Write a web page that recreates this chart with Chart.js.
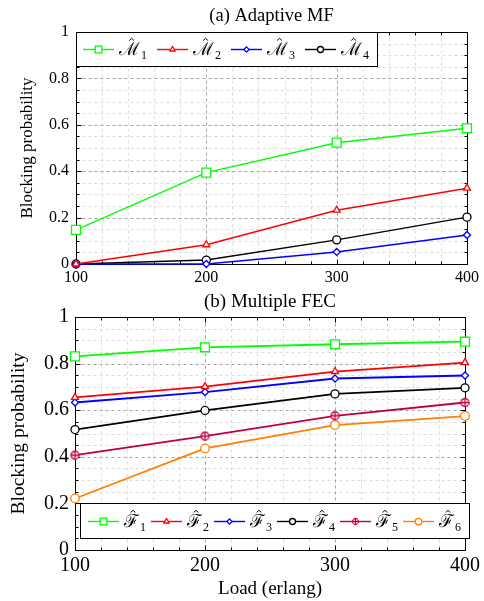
<!DOCTYPE html>
<html>
<head>
<meta charset="utf-8">
<script src="https://cdn.jsdelivr.net/npm/chart.js@4.4.0/dist/chart.umd.min.js"></script>
<style>
  html, body { margin: 0; padding: 0; background: #fff; }
  #wrap { position: relative; width: 484px; height: 601px; }
  .panel { position: absolute; left: 0; width: 484px; }
</style>
</head>
<body>
<div id="wrap">
  <div class="panel" style="top:0;height:288px"><canvas id="mfChart" width="484" height="288"></canvas></div>
  <div class="panel" style="top:288px;height:313px"><canvas id="fecChart" width="484" height="313"></canvas></div>
</div>
<script>
// Data
const loads = [100, 200, 300, 400];
const xTickLabels = [100, 200, 300, 400];
const yTickLabels = [0, 0.2, 0.4, 0.6, 0.8, 1];

// (a) Adaptive MF
const mf1 = [0.147, 0.394, 0.523, 0.585];
const mf2 = [0.0, 0.083, 0.232, 0.327];
const mf3 = [0.0, 0.0, 0.052, 0.125];
const mf4 = [0.0, 0.017, 0.104, 0.202];

// (b) Multiple FEC
const fec1 = [0.831, 0.870, 0.883, 0.894];
const fec2 = [0.655, 0.701, 0.766, 0.804];
const fec3 = [0.633, 0.678, 0.736, 0.749];
const fec4 = [0.517, 0.599, 0.670, 0.696];
const fec5 = [0.407, 0.489, 0.576, 0.633];
const fec6 = [0.221, 0.436, 0.536, 0.575];

const FONT = '"Liberation Serif", "DejaVu Serif", serif';

// circle with a plus inside, used as point style for F5
function circledPlus(color, r) {
  const c = document.createElement('canvas');
  const s = Math.ceil(2 * r + 3);
  c.width = s; c.height = s;
  const g = c.getContext('2d');
  const m = s / 2;
  g.fillStyle = '#fff';
  g.strokeStyle = color;
  g.lineWidth = 1.3;
  g.beginPath(); g.arc(m, m, r, 0, Math.PI * 2); g.fill(); g.stroke();
  g.beginPath();
  g.moveTo(m - r, m); g.lineTo(m + r, m);
  g.moveTo(m, m - r); g.lineTo(m, m + r);
  g.stroke();
  return c;
}

function drawMarker(ctx, ds, x, y, scale) {
  ctx.save();
  ctx.fillStyle = '#fff';
  ctx.strokeStyle = ds.borderColor;
  ctx.lineWidth = ds.pointBorderWidth;
  if (ds.pointStyle instanceof HTMLCanvasElement) {
    const w = ds.pointStyle.width * scale, h = ds.pointStyle.height * scale;
    ctx.drawImage(ds.pointStyle, x - w / 2, y - h / 2, w, h);
  } else if (Chart.helpers && Chart.helpers.drawPoint) {
    Chart.helpers.drawPoint(ctx, { pointStyle: ds.pointStyle, radius: ds.pointRadius * scale, borderWidth: ds.pointBorderWidth, rotation: 0 }, x, y);
  } else {
    ctx.beginPath(); ctx.arc(x, y, ds.pointRadius * scale, 0, Math.PI * 2); ctx.fill(); ctx.stroke();
  }
  ctx.restore();
}

function series(label, sym, sub, vals, color, style, radius, lw) {
  return {
    label: label,
    sym: sym,
    sub: sub,
    data: loads.map((x, i) => ({ x: x, y: vals[i] })),
    borderColor: color,
    backgroundColor: '#fff',
    pointBackgroundColor: '#fff',
    pointBorderColor: color,
    pointStyle: style,
    pointRadius: radius,
    pointBorderWidth: 1.3,
    borderWidth: lw,
    tension: 0,
    clip: false
  };
}

// title centred over the plot area
const areaTitle = {
  id: 'areaTitle',
  afterDraw(chart, args, o) {
    const { ctx, chartArea: a } = chart;
    ctx.save();
    ctx.fillStyle = '#000';
    ctx.font = o.size + 'px ' + FONT;
    ctx.textAlign = 'center';
    ctx.textBaseline = 'middle';
    ctx.fillText(o.text, (a.left + a.right) / 2, o.y);
    ctx.restore();
  }
};

// dashed grid (major + minor), axis box and inner tick marks
const frame = {
  id: 'frame',
  beforeDatasetsDraw(chart) {
    const { ctx, chartArea: a, scales } = chart;
    const L = Math.round(a.left) + 0.5, R = Math.round(a.right) + 0.5;
    const T = Math.round(a.top) + 0.5, B = Math.round(a.bottom) + 0.5;
    const isMajorX = v => xTickLabels.includes(v);
    const isMajorY = v => yTickLabels.includes(Math.round(v * 100) / 100);
    ctx.save();
    ctx.lineWidth = 1;
    ctx.setLineDash([3, 3]);
    [false, true].forEach(major => {
      ctx.strokeStyle = major ? '#a3a3a3' : '#dcdcdc';
      ctx.beginPath();
      scales.x.ticks.forEach(t => {
        if (isMajorX(t.value) !== major) return;
        const px = Math.round(scales.x.getPixelForValue(t.value)) + 0.5;
        ctx.moveTo(px, T); ctx.lineTo(px, B);
      });
      scales.y.ticks.forEach(t => {
        if (isMajorY(t.value) !== major) return;
        const py = Math.round(scales.y.getPixelForValue(t.value)) + 0.5;
        ctx.moveTo(L, py); ctx.lineTo(R, py);
      });
      ctx.stroke();
    });
    ctx.setLineDash([]);
    ctx.strokeStyle = '#000';
    ctx.beginPath();
    scales.x.ticks.forEach(t => {
      const px = Math.round(scales.x.getPixelForValue(t.value)) + 0.5;
      const len = isMajorX(t.value) ? 5 : 3;
      ctx.moveTo(px, B); ctx.lineTo(px, B - len);
      ctx.moveTo(px, T); ctx.lineTo(px, T + len);
    });
    scales.y.ticks.forEach(t => {
      const py = Math.round(scales.y.getPixelForValue(t.value)) + 0.5;
      const len = isMajorY(t.value) ? 5 : 3;
      ctx.moveTo(L, py); ctx.lineTo(L + len, py);
      ctx.moveTo(R, py); ctx.lineTo(R - len, py);
    });
    ctx.stroke();
    ctx.strokeRect(L, T, R - L, B - T);
    ctx.restore();
  }
};

// boxed legend drawn inside the plot area
const boxLegend = {
  id: 'boxLegend',
  afterDraw(chart, args, o) {
    const { ctx, chartArea: a } = chart;
    const sets = chart.data.datasets;
    const symFont = o.size + 'px ' + FONT;
    const subFont = Math.round(o.size * 0.68) + 'px ' + FONT;
    ctx.save();
    const widths = sets.map(ds => {
      ctx.font = symFont;
      const w1 = ctx.measureText(ds.sym).width;
      ctx.font = subFont;
      const w2 = ctx.measureText(ds.sub).width;
      return { w1, w2 };
    });
    let total = o.padL + o.padR;
    widths.forEach((w, i) => {
      total += o.line + o.gap + w.w1 + 1 + w.w2 + (i < widths.length - 1 ? o.space : 0);
    });
    total = Math.round(total);
    const x0 = Math.round(o.align === 'left' ? a.left + o.dx : a.right + o.dx - total);
    const y0 = Math.round(o.valign === 'top' ? a.top + o.dy : a.bottom + o.dy - o.h);
    ctx.fillStyle = '#fff';
    ctx.fillRect(x0, y0, total, o.h);
    ctx.strokeStyle = '#000';
    ctx.lineWidth = 1;
    ctx.strokeRect(x0 + 0.5, y0 + 0.5, total, o.h);
    const cy = Math.round(y0 + o.h / 2) + 0.5;
    let x = x0 + o.padL;
    sets.forEach((ds, i) => {
      ctx.strokeStyle = ds.borderColor;
      ctx.lineWidth = 1.4;
      ctx.beginPath();
      ctx.moveTo(x, cy); ctx.lineTo(x + o.line, cy);
      ctx.stroke();
      drawMarker(ctx, ds, x + o.line / 2, cy, o.marker);
      x += o.line + o.gap;
      const w = widths[i];
      ctx.fillStyle = '#000';
      ctx.textAlign = 'left';
      ctx.textBaseline = 'alphabetic';
      ctx.font = symFont;
      const base = cy + o.size * 0.32;
      ctx.fillText(ds.sym, x, base);
      // hat accent over the letter
      const hx = x + w.w1 * 0.6, hy = cy - o.size * 0.62;
      ctx.strokeStyle = '#000';
      ctx.lineWidth = 1;
      ctx.beginPath();
      ctx.moveTo(hx - o.size * 0.13, hy + o.size * 0.12);
      ctx.lineTo(hx, hy);
      ctx.lineTo(hx + o.size * 0.13, hy + o.size * 0.12);
      ctx.stroke();
      x += w.w1 + 1;
      ctx.font = subFont;
      ctx.fillText(ds.sub, x, base + o.size * 0.2);
      x += w.w2 + o.space;
    });
    ctx.restore();
  }
};

function axes(o) {
  return {
    x: {
      type: 'linear',
      min: xTickLabels[0],
      max: xTickLabels[xTickLabels.length - 1],
      afterFit: s => { s.height = o.xH; },
      ticks: {
        stepSize: 20,
        autoSkip: false,
        maxRotation: 0,
        padding: o.xPad,
        color: '#000',
        font: { family: FONT, size: o.tick },
        callback: v => xTickLabels.includes(v) ? String(v) : ''
      },
      grid: { display: false, drawTicks: false },
      border: { display: false },
      title: o.xTitle ? {
        display: true,
        text: o.xTitle,
        color: '#000',
        font: { family: FONT, size: o.xTitleSize },
        padding: { top: 0, bottom: o.xTitlePad }
      } : { display: false }
    },
    y: {
      min: yTickLabels[0],
      max: yTickLabels[yTickLabels.length - 1],
      afterFit: s => { s.width = o.yW; },
      ticks: {
        stepSize: 0.05,
        autoSkip: false,
        padding: o.yPad,
        color: '#000',
        font: { family: FONT, size: o.tick },
        callback: v => {
          const k = Math.round(v * 100) / 100;
          return yTickLabels.includes(k) ? String(k) : '';
        }
      },
      grid: { display: false, drawTicks: false },
      border: { display: false },
      title: {
        display: true,
        text: 'Blocking probability',
        color: '#000',
        font: { family: FONT, size: o.yTitleSize },
        padding: { top: o.yTitlePad, bottom: 0 }
      }
    }
  };
}

new Chart(document.getElementById('mfChart'), {
  type: 'line',
  data: {
    datasets: [
      series('ℳ̂1', 'ℳ', '1', mf1, '#00ff00', 'rect', 6.3, 1.5),
      series('ℳ̂2', 'ℳ', '2', mf2, '#ff0000', 'triangle', 4, 1.5),
      series('ℳ̂3', 'ℳ', '3', mf3, '#0000ff', 'rectRot', 3.5, 1.5),
      series('ℳ̂4', 'ℳ', '4', mf4, '#000000', 'circle', 4, 1.5)
    ]
  },
  options: {
    responsive: false,
    animation: false,
    events: [],
    layout: { padding: { left: 0, right: 17, top: 32, bottom: 0 } },
    scales: axes({ xH: 24, xPad: 4, tick: 16, yW: 76, yPad: 7, yTitleSize: 17, yTitlePad: 17 }),
    plugins: {
      legend: { display: false },
      tooltip: { enabled: false },
      areaTitle: { text: '(a) Adaptive MF', size: 18.5, y: 16 },
      boxLegend: { size: 18, marker: 0.75, line: 31, gap: 5, space: 10, padL: 7, padR: 8, h: 34, align: 'left', dx: 0, valign: 'top', dy: 0 }
    }
  },
  plugins: [frame, boxLegend, areaTitle]
});

new Chart(document.getElementById('fecChart'), {
  type: 'line',
  data: {
    datasets: [
      series('ℱ̂1', 'ℱ', '1', fec1, '#00ff00', 'rect', 6.3, 1.8),
      series('ℱ̂2', 'ℱ', '2', fec2, '#ff0000', 'triangle', 4, 1.8),
      series('ℱ̂3', 'ℱ', '3', fec3, '#0000ff', 'rectRot', 3.5, 1.8),
      series('ℱ̂4', 'ℱ', '4', fec4, '#000000', 'circle', 4, 1.8),
      series('ℱ̂5', 'ℱ', '5', fec5, '#bf0040', circledPlus('#bf0040', 4), 4, 1.8),
      series('ℱ̂6', 'ℱ', '6', fec6, '#ff8000', 'circle', 4.3, 1.8)
    ]
  },
  options: {
    responsive: false,
    animation: false,
    events: [],
    layout: { padding: { left: 0, right: 17, top: 29, bottom: 0 } },
    scales: axes({ xH: 51, xPad: 4, tick: 20, xTitle: 'Load (erlang)', xTitleSize: 19, xTitlePad: 1, yW: 75, yPad: 6, yTitleSize: 19.5, yTitlePad: 7 }),
    plugins: {
      legend: { display: false },
      tooltip: { enabled: false },
      areaTitle: { text: '(b) Multiple FEC', size: 19, y: 14 },
      boxLegend: { size: 18, marker: 0.75, line: 31, gap: 5, space: 5, padL: 8, padR: 8, h: 35, align: 'right', dx: 4, valign: 'bottom', dy: -12 }
    }
  },
  plugins: [frame, boxLegend, areaTitle]
});
</script>
</body>
</html>
